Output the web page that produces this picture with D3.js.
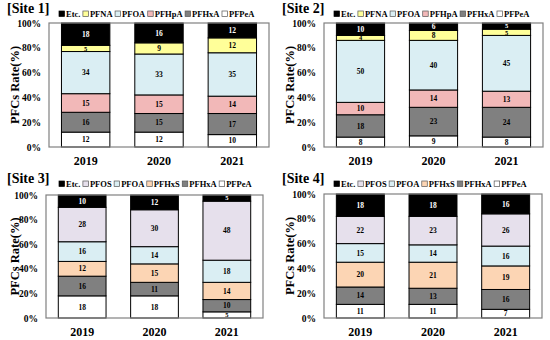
<!DOCTYPE html>
<html>
<head>
<meta charset="UTF-8" />
<script src="https://d3js.org/d3.v7.min.js"></script>
<style>
  body { margin: 0; background: #fff; }
  svg { display: block; font-family: "Liberation Serif", "Times New Roman", serif; font-weight: bold; }
</style>
</head>
<body>
<svg id="chart" width="550" height="340"></svg>
<script>
// data, bottom to top of each stack
const years = ["2019", "2020", "2021"];
const yTicks = [0, 20, 40, 60, 80, 100];

const site1Keys = ["PFPeA", "PFHxA", "PFHpA", "PFOA", "PFNA", "Etc."];
const site1Values = [
  [12, 16, 15, 34, 5, 18],
  [12, 15, 15, 33, 9, 16],
  [10, 17, 14, 35, 12, 12]
];

const site2Keys = ["PFPeA", "PFHxA", "PFHpA", "PFOA", "PFNA", "Etc."];
const site2Values = [
  [8, 18, 10, 50, 4, 10],
  [9, 23, 14, 40, 8, 6],
  [8, 24, 13, 45, 5, 5]
];

const site3Keys = ["PFPeA", "PFHxA", "PFHxS", "PFOA", "PFOS", "Etc."];
const site3Values = [
  [18, 16, 12, 16, 28, 10],
  [18, 11, 15, 14, 30, 12],
  [5, 10, 14, 18, 48, 5]
];

const site4Keys = ["PFPeA", "PFHxA", "PFHxS", "PFOA", "PFOS", "Etc."];
const site4Values = [
  [11, 14, 20, 15, 22, 18],
  [11, 13, 21, 14, 23, 18],
  [7, 16, 19, 16, 26, 16]
];

const colors = {
  "Etc.": "#000000",
  "PFNA": "#ffff99",
  "PFOA": "#daeef3",
  "PFHpA": "#f2b8b8",
  "PFHxA": "#808080",
  "PFPeA": "#ffffff",
  "PFOS": "#e6e0ec",
  "PFHxS": "#fcd5b4"
};

const panels = [
  { title: "[Site 1]", keys: site1Keys, values: site1Values, ox: 0, oy: 0, l: 49, r: 269, t: 23, b: 147 },
  { title: "[Site 2]", keys: site2Keys, values: site2Values, ox: 275, oy: 0, l: 49, r: 268, t: 23, b: 147 },
  { title: "[Site 3]", keys: site3Keys, values: site3Values, ox: 0, oy: 170, l: 46, r: 263, t: 25, b: 148 },
  { title: "[Site 4]", keys: site4Keys, values: site4Values, ox: 275, oy: 170, l: 49, r: 267, t: 24, b: 148 }
];

const svg = d3.select("#chart");

panels.forEach((p) => {
  const g = svg.append("g").attr("transform", `translate(${p.ox},${p.oy})`);

  const x = d3.scaleBand().domain(years).range([p.l, p.r]).paddingInner(0.34).paddingOuter(0.17);
  const y = d3.scaleLinear().domain([0, 100]).range([p.b, p.t]);

  // title
  g.append("text").attr("x", 7).attr("y", 13).attr("font-size", 14).text(p.title);

  // y axis title
  g.append("text")
    .attr("transform", `translate(19,${(p.t + p.b) / 2}) rotate(-90)`)
    .attr("text-anchor", "middle")
    .attr("font-size", 12.5)
    .text("PFCs Rate(%)");

  // y axis labels
  const yAxis = d3.axisLeft(y).tickValues(yTicks).tickSize(0).tickPadding(8).tickFormat((d) => d + "%");
  const ya = g.append("g").attr("transform", `translate(${p.l},0)`).call(yAxis)
    .attr("font-family", null).attr("font-size", 9.5);
  ya.select(".domain").remove();
  ya.selectAll("text").attr("fill", "#000");

  // x axis labels
  const xAxis = d3.axisBottom(x).tickSize(0).tickPadding(9);
  const xa = g.append("g").attr("transform", `translate(0,${p.b})`).call(xAxis)
    .attr("font-family", null).attr("font-size", 12);
  xa.select(".domain").remove();
  xa.selectAll("text").attr("fill", "#000");

  // stacks
  const rows = p.values.map((v, i) => {
    const o = { year: years[i] };
    p.keys.forEach((k, j) => (o[k] = v[j]));
    return o;
  });
  const series = d3.stack().keys(p.keys)(rows);

  series.forEach((s) => {
    const layer = g.append("g");
    layer.selectAll("rect").data(s).join("rect")
      .attr("x", (d) => x(d.data.year))
      .attr("width", x.bandwidth())
      .attr("y", (d) => y(d[1]))
      .attr("height", (d) => y(d[0]) - y(d[1]))
      .attr("fill", colors[s.key])
      .attr("stroke", "#000")
      .attr("stroke-width", 1);
    layer.selectAll("text").data(s).join("text")
      .attr("x", (d) => x(d.data.year) + x.bandwidth() / 2)
      .attr("y", (d) => (y(d[0]) + y(d[1])) / 2)
      .attr("dy", "0.35em")
      .attr("text-anchor", "middle")
      .attr("font-size", (d) => (d[1] - d[0] <= 5 ? 6.5 : 7.5))
      .attr("fill", s.key === "Etc." ? "#fff" : "#000")
      .text((d) => d[1] - d[0]);
  });

  // frame
  g.append("rect")
    .attr("x", p.l).attr("y", p.t)
    .attr("width", p.r - p.l).attr("height", p.b - p.t)
    .attr("fill", "none").attr("stroke", "#808080").attr("stroke-width", 1.2);

  // legend, top to bottom order
  const legendKeys = p.keys.slice().reverse();
  const lg = g.append("g").attr("font-size", 8.5);
  let lx = 59;
  const ly = 14;
  legendKeys.forEach((k) => {
    lg.append("rect")
      .attr("x", lx).attr("y", ly - 3)
      .attr("width", 5.5).attr("height", 5.5)
      .attr("fill", colors[k])
      .attr("stroke", k === "Etc." ? "#000" : "#555")
      .attr("stroke-width", 0.7);
    const t = lg.append("text").attr("x", lx + 7).attr("y", ly).attr("dy", "0.35em").text(k);
    lx += 7 + t.node().getComputedTextLength() + 2.5;
  });
});
</script>
</body>
</html>
